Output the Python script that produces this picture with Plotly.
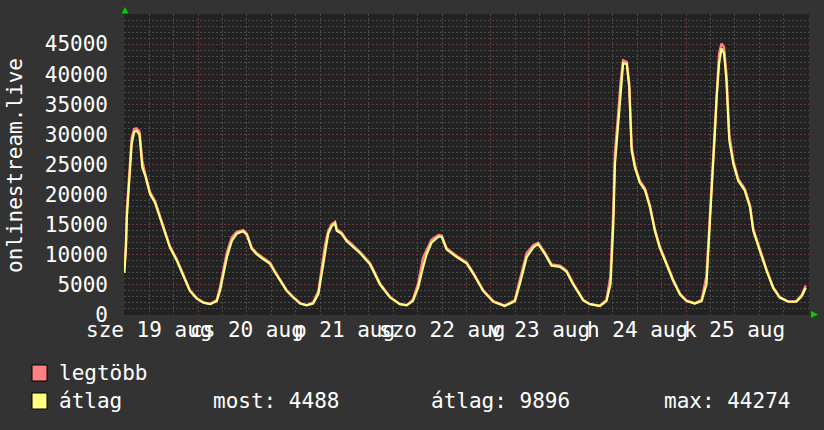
import plotly.graph_objects as go

# ---- data (hours since 19 aug 00:00) ----
hours = [5.9, 6.3, 6.5, 6.9, 7.3, 7.7, 8.3, 8.9, 9.6, 9.9, 10.3, 11.0, 12.2, 13.4, 14.7, 15.9, 17.1, 18.8,
         20.4, 22.0, 23.7, 25.3, 27.0, 28.6, 29.4, 30.2, 31.1, 32.3, 33.5, 35.1, 36.0, 37.2, 38.4, 40.0,
         41.7, 42.9, 44.2, 45.8, 47.4, 49.1, 50.7, 52.3, 53.6, 54.4, 55.2, 56.0, 56.9, 57.7, 58.1, 59.3,
         60.5, 61.4, 62.6, 63.8, 66.3, 68.7, 71.2, 73.6, 75.3, 76.8, 78.1, 79.3, 80.2, 81.4, 83.1, 83.9,
         85.1, 87.6, 90.0, 91.7, 94.1, 96.6, 99.4, 101.9, 103.1, 104.8, 106.4, 107.6, 109.3, 110.9, 113.0,
         114.6, 116.2, 117.9, 118.7, 120.3, 122.8, 124.4, 125.4, 126.1, 126.5, 127.3, 127.9, 128.5, 129.4,
         130.0, 130.6, 131.4, 132.6, 133.9, 135.1, 136.3, 137.5, 139.2, 140.8, 142.5, 144.1, 146.1, 147.8,
         149.0, 149.8, 150.3, 151.1, 151.5, 152.1, 152.7, 153.3, 153.9, 154.6, 155.6, 156.8, 158.4, 159.7,
         160.5, 162.1, 163.8, 165.4, 167.0, 169.1, 171.1, 172.4, 173.4]

atlag = [7000, 11200, 16200, 20700, 24000, 28500, 30400, 30600, 30000, 27300, 24500, 23200, 20100, 18700,
         16000, 13500, 11200, 9000, 6500, 4000, 2700, 2050, 1800, 2300, 4000, 6800, 9600, 12300, 13500,
         13900, 13300, 11000, 10100, 9300, 8500, 7100, 5700, 4000, 2900, 1900, 1600, 1900, 3500, 6800,
         10700, 13500, 14800, 15200, 14000, 13500, 12300, 11800, 11000, 10300, 8400, 5100, 2900, 1800,
         1600, 2300, 4500, 7900, 10100, 12000, 13000, 13000, 10900, 9600, 8600, 6800, 4000, 2200, 1500,
         2300, 5100, 9600, 11200, 11800, 10100, 8200, 8000, 7200, 5100, 3300, 2400, 1800, 1500, 2300, 5100,
         15100, 25100, 31800, 37300, 41800, 41700, 37900, 27300, 24500, 22000, 20700, 17900, 14000, 11200,
         8400, 5700, 3400, 2300, 1900, 2300, 5100, 14000, 21200, 30700, 36200, 41800, 44274, 43500, 39000,
         29000, 25100, 22300, 20700, 17900, 14000, 10700, 7300, 4500, 2900, 2200, 2200, 3100, 4488]

legtobb = [7800, 12500, 17500, 21800, 25500, 29500, 30900, 31000, 30500, 27800, 25600, 23500, 20400, 19000,
           16300, 13700, 11400, 9200, 6700, 4100, 2800, 2100, 1850, 2500, 4600, 7600, 10400, 12900, 13800,
           14100, 13500, 11200, 10300, 9500, 8700, 7300, 5900, 4100, 3000, 1950, 1650, 2100, 4000, 7600,
           11500, 14000, 15100, 15500, 14300, 13700, 12500, 12000, 11200, 10500, 8600, 5300, 3000, 1850,
           1650, 2500, 5200, 9500, 10800, 12500, 13300, 13200, 11100, 9800, 8800, 7000, 4100, 2300, 1550,
           2500, 5800, 10300, 11600, 12000, 10300, 8400, 8200, 7400, 5300, 3400, 2500, 1850, 1550, 2500, 6500,
           17500, 27000, 33500, 38800, 42300, 42000, 38500, 28000, 24900, 22300, 21000, 18200, 14300, 11400,
           8600, 5900, 3500, 2400, 1950, 2500, 6500, 16000, 22500, 32500, 38000, 43500, 45100, 44500, 40000,
           30000, 25600, 22600, 21000, 18200, 14300, 10900, 7500, 4600, 3000, 2250, 2300, 3300, 4900]

y_tick_values = [0, 5000, 10000, 15000, 20000, 25000, 30000, 35000, 40000, 45000]
y_tick_labels = ["0", "5000", "10000", "15000", "20000", "25000", "30000", "35000", "40000", "45000"]

day_label_hours = [12, 36, 60, 84, 108, 132, 156]
day_labels = ["sze 19 aug", "cs 20 aug", "p 21 aug", "szo 22 aug", "v 23 aug", "h 24 aug", "k 25 aug"]

y_title = "onlinestream.live"
legend_names = ["legtöbb", "átlag"]
stats = ["most: 4488", "átlag: 9896", "max: 44274"]

# ---- layout helpers (pixel -> paper) ----
W, H = 824, 430
L, R, T, B = 124, 809, 14, 315
def px(x):
    return (x - L) / (R - L)
def py(y):
    return (B - y) / (B - T)

FONT = "DejaVu Sans Mono"
FS = 21
MAXC = "#FF8080"
AVGC = "#FFFF80"
MAJOR = "#6a3838"
MINOR = "#4c4c4c"

fig = go.Figure()
fig.add_trace(go.Scatter(x=hours, y=legtobb, mode="lines", line=dict(color=MAXC, width=2.4),
                         name=legend_names[0], showlegend=False, hoverinfo="skip"))
fig.add_trace(go.Scatter(x=hours, y=atlag, mode="lines", line=dict(color=AVGC, width=2.2),
                         name=legend_names[1], showlegend=False, hoverinfo="skip"))

fig.update_layout(
    width=W, height=H,
    margin=dict(l=L, r=W - R, t=T, b=H - B, pad=0, autoexpand=False),
    paper_bgcolor="#333333",
    plot_bgcolor="#222222",
    font=dict(family=FONT, size=FS, color="#FFFFFF"),
    showlegend=False,
)

fig.update_xaxes(
    range=[5.8, 174.2], tickmode="linear", tick0=0, dtick=24,
    showticklabels=False, ticks="", zeroline=False, automargin=False,
    showgrid=True, gridcolor=MAJOR, griddash="2px,2px", gridwidth=1,
    minor=dict(tick0=0, dtick=6, showgrid=True, gridcolor=MINOR, griddash="2px,2px", gridwidth=1),
    showline=False,
)
fig.update_yaxes(
    range=[0, 50000], tickmode="array", tickvals=y_tick_values, ticktext=y_tick_labels,
    ticks="", zeroline=False, ticklabelstandoff=15, automargin=False,
    tickfont=dict(family=FONT, size=FS, color="#FFFFFF"),
    showgrid=True, gridcolor=MAJOR, griddash="2px,2px", gridwidth=1,
    minor=dict(tickmode="linear", tick0=0, dtick=1000, showgrid=True, gridcolor=MINOR,
               griddash="2px,2px", gridwidth=1),
    showline=False,
)

ann = []
for h, t in zip(day_label_hours, day_labels):
    ann.append(dict(x=h, xref="x", y=py(330), yref="paper", text=t, showarrow=False,
                    xanchor="center", yanchor="middle", font=dict(family=FONT, size=FS, color="#FFFFFF")))
ann.append(dict(x=px(15), xref="paper", y=py(165), yref="paper", text=y_title, textangle=-90,
                showarrow=False, xanchor="center", yanchor="middle",
                font=dict(family=FONT, size=FS, color="#FFFFFF")))
ann.append(dict(x=px(57), xref="paper", y=py(373), yref="paper", text=legend_names[0], showarrow=False,
                xanchor="left", yanchor="middle", font=dict(family=FONT, size=FS, color="#FFFFFF")))
ann.append(dict(x=px(57), xref="paper", y=py(401), yref="paper", text=legend_names[1], showarrow=False,
                xanchor="left", yanchor="middle", font=dict(family=FONT, size=FS, color="#FFFFFF")))
for xpos, s in zip([211, 429, 662], stats):
    ann.append(dict(x=px(xpos), xref="paper", y=py(401), yref="paper", text=s, showarrow=False,
                    xanchor="left", yanchor="middle", font=dict(family=FONT, size=FS, color="#FFFFFF")))
fig.update_layout(annotations=ann)

shapes = []
for (y0, y1), c in zip([(365, 381), (393, 409)], [MAXC, AVGC]):
    shapes.append(dict(type="rect", xref="paper", yref="paper", x0=px(32), x1=px(47), y0=py(y1), y1=py(y0),
                       fillcolor=c, line=dict(color="#000000", width=1)))
# green arrows on axes
shapes.append(dict(type="path", xref="paper", yref="paper",
                   path=f"M {px(121.5)},{py(13.5)} L {px(128.5)},{py(13.5)} L {px(125)},{py(7)} Z",
                   fillcolor="#00CC00", line=dict(width=0)))
shapes.append(dict(type="path", xref="paper", yref="paper",
                   path=f"M {px(811)},{py(311)} L {px(811)},{py(318)} L {px(818)},{py(314.5)} Z",
                   fillcolor="#00CC00", line=dict(width=0)))
fig.update_layout(shapes=shapes)

fig.write_html(
    "out.html",
    config={"displayModeBar": False, "staticPlot": True},
    post_script="document.body.style.margin='0px';document.body.style.background='#333333';"
                "document.body.style.overflow='hidden';",
)
